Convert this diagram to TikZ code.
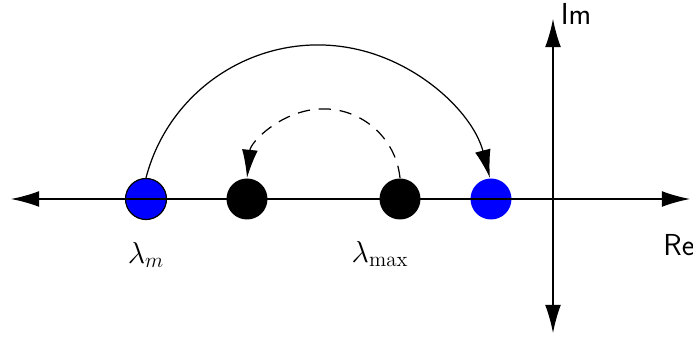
\documentclass[tikz,border=0pt]{standalone}
\usepackage{amsmath}
\usetikzlibrary{arrows.meta, positioning}

\begin{document}
\begin{tikzpicture}[>={Latex[length=16pt, width=9pt]}, line width=0.7pt,
        eig/.style={circle, minimum size=0.82cm, inner sep=0pt},
        axlabel/.style={font=\LARGE\sffamily},
        eiglabel/.style={font=\LARGE}]
        \useasboundingbox (-11.06,-2.84) rectangle (2.8,3.98);

        % Eigenvalues on the real axis
        \node [eig, draw=black, fill=blue] (lm) at (-8.14,0) {};
        \node [eig, fill=black] (la) at (-6.12,0) {};
        \node [eig, fill=black] (lmax) at (-3.06,0) {};
        \node [eig, fill=blue] (lb) at (-1.24,0) {};

        % Complex plane axes
        \coordinate (west) at (-10.84,0);
        \coordinate (east) at (2.74,0);
        \coordinate (south) at (0,-2.68);
        \coordinate (north) at (0,3.6);
        \draw [<->] (west) -- (east);
        \draw [<->] (south) -- (north);
        \node [axlabel] (re) at (2.52,-0.92) {Re};
        \node [axlabel] (im) at (0.46,3.7) {Im};

        % Labels below the eigenvalues
        \node [eiglabel] (lmlabel) at (-8.14,-1.12) {$\lambda_m$};
        \node [eiglabel] (lmaxlabel) at (-3.46,-1.1) {$\lambda_{\max}$};

        % Shift of the eigenvalues
        \draw [->] (lm.north) arc [start angle=165.4, end angle=14.6, radius=3.554];
        \draw [->, dash pattern=on 7pt off 5pt] (lmax.north) arc [start angle=5.9, end angle=174.1, radius=1.538];
\end{tikzpicture}
\end{document}
